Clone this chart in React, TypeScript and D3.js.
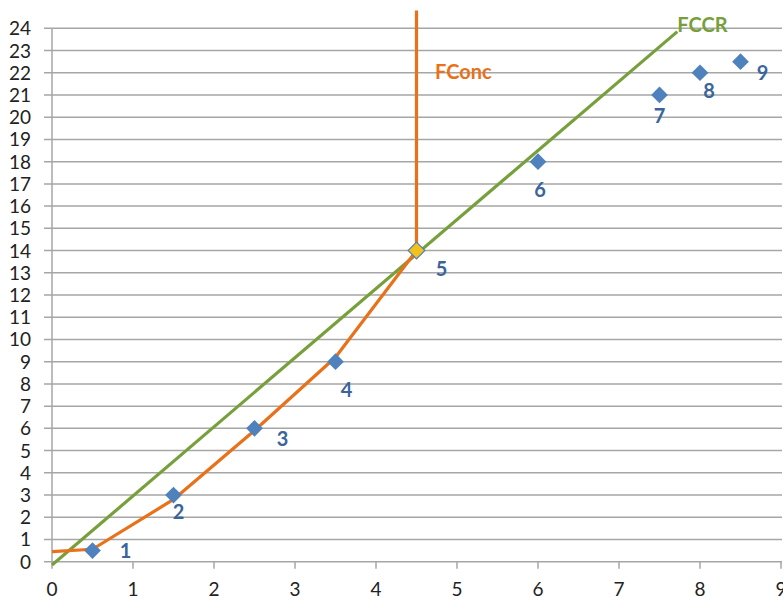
import React from "react";
import * as d3 from "d3";

const pointX = [0.5, 1.5, 2.5, 3.5, 4.5, 6, 7.5, 8, 8.5];
const pointY = [0.5, 3, 6, 9, 14, 18, 21, 22, 22.5];
const pointLabels = ["1", "2", "3", "4", "5", "6", "7", "8", "9"];
// label placement offsets in pixels (style)
const labelDx = [33, 5, 28, 11, 25, 2, 0, 9, 22];
const labelDy = [0, 17, 11, 28, 18, 28, 21, 18, 11];

const fccrX = [0, 7.72];
const fccrY = [-0.15, 23.85];

const fconcX = [0, 0.5, 1.5, 2.5, 3.5, 4.5, 4.5];
const fconcY = [0.45, 0.56, 2.8, 5.9, 9.2, 14, 24.8];

const xTicks = [0, 1, 2, 3, 4, 5, 6, 7, 8, 9];
const yTicks = d3.range(0, 25);

export default function App() {
  const W = 783, H = 600;
  const x = d3.scaleLinear().domain([0, 9]).range([52, 781]);
  const y = d3.scaleLinear().domain([0, 24]).range([561.7, 28.3]);
  const line = d3.line<[number, number]>().x(d => x(d[0])).y(d => y(d[1]));
  const fccr = fccrX.map((v, i) => [v, fccrY[i]] as [number, number]);
  const fconc = fconcX.map((v, i) => [v, fconcY[i]] as [number, number]);
  const diamond = d3.symbol().type(d3.symbolSquare).size(140)();
  const grid = "#a6a6a6";
  const font = "Lato, 'Open Sans', sans-serif";
  return (
    <svg width={W} height={H} style={{ position: "absolute", left: 0, top: 0, background: "#fff" }}>
      {yTicks.map(t => (
        <line key={"g" + t} x1={44} x2={782} y1={y(t)} y2={y(t)} stroke={grid} strokeWidth={1.5} />
      ))}
      <line x1={x(0)} x2={x(0)} y1={y(24)} y2={y(0)} stroke={grid} strokeWidth={1.5} />
      {xTicks.map(t => (
        <line key={"xt" + t} x1={x(t)} x2={x(t)} y1={y(0)} y2={y(0) + 7} stroke={grid} strokeWidth={1.5} />
      ))}
      {yTicks.map(t => (
        <text key={"yl" + t} x={31} y={y(t) + 7} textAnchor="end" fontFamily={font} fontSize={19} fill="#222">{t}</text>
      ))}
      {xTicks.map(t => (
        <text key={"xl" + t} x={x(t)} y={596} textAnchor="middle" fontFamily={font} fontSize={19} fill="#222">{t}</text>
      ))}
      <path d={line(fccr) || ""} fill="none" stroke="#77a03c" strokeWidth={3.2} />
      <path d={line(fconc) || ""} fill="none" stroke="#e8711a" strokeWidth={3.2} strokeLinejoin="round" />
      {pointX.map((px, i) => (
        <path key={"p" + i} d={diamond || ""} transform={`translate(${x(px)},${y(pointY[i])}) rotate(45)`}
          fill={i === 4 ? "#f2c21a" : "#4f81bd"} stroke={i === 4 ? "#4f81bd" : "none"} strokeWidth={1.2} />
      ))}
      {pointX.map((px, i) => (
        <text key={"l" + i} x={x(px) + labelDx[i]} y={y(pointY[i]) + labelDy[i] + 7} textAnchor="middle"
          fontFamily={font} fontWeight="bold" fontSize={20} fill="#3b659a">{pointLabels[i]}</text>
      ))}
      <text x={x(7.72)} y={32} fontFamily={font} fontWeight="bold" fontSize={20} fill="#77a03c">FCCR</text>
      <text x={435} y={79} fontFamily={font} fontWeight="bold" fontSize={20} fill="#e8711a">FConc</text>
    </svg>
  );
}
